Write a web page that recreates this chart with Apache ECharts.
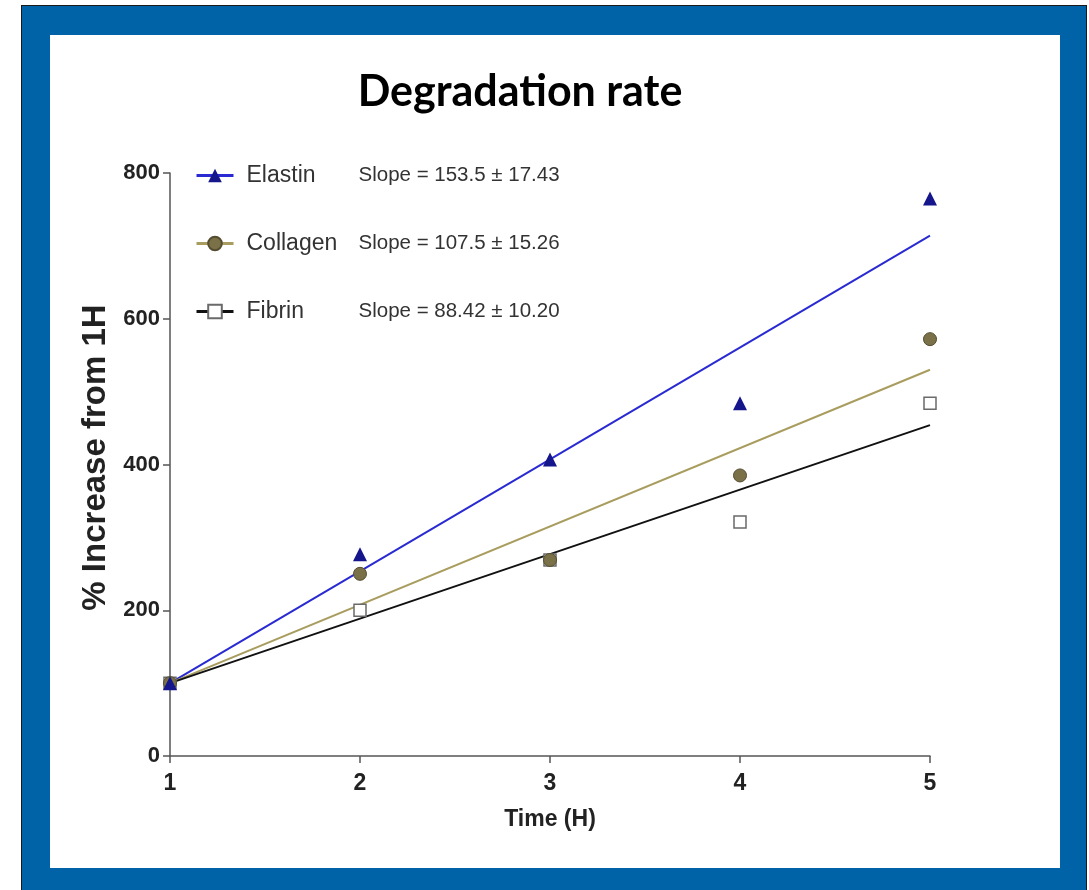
<!DOCTYPE html>
<html>
<head>
<meta charset="utf-8">
<script src="https://cdn.jsdelivr.net/npm/echarts@6/dist/echarts.min.js"></script>
<style>
html,body{margin:0;padding:0;background:#fff;width:1089px;height:890px;overflow:hidden;}
#frame{position:absolute;left:21px;top:5px;width:1064px;height:890px;background:#0063a8;border:1px solid #1a1a1a;}
#chart{position:absolute;left:50px;top:35px;width:1010px;height:833px;background:#fff;}
</style>
</head>
<body>
<div id="frame"></div>
<div id="chart"></div>
<script>
// ---- data ----
const timeH = [1, 2, 3, 4, 5];
const elastin = [100, 277, 407, 484, 765];
const collagen = [100, 250, 269, 385, 572];
const fibrin = [100, 200, 269, 321, 484];
// fitted regression lines (start/end values read at x = 1 and x = 5)
const fitX = [1, 5];
const elastinFit = [100, 714];
const collagenFit = [100, 530];
const fibrinFit = [100, 454];
const seriesNames = ['Elastin', 'Collagen', 'Fibrin'];
const slopeTexts = ['Slope = 153.5 \u00b1 17.43', 'Slope = 107.5 \u00b1 15.26', 'Slope = 88.42 \u00b1 10.20'];
const yTicks = [0, 200, 400, 600, 800];

function pairs(xs, ys) { return xs.map((x, i) => [x, ys[i]]); }

const chart = echarts.init(document.getElementById('chart'), null, {renderer: 'canvas'});
const axisFont = '"Liberation Sans", Arial, sans-serif';
const axisColor = '#555';

const option = {
  backgroundColor: '#fff',
  animation: false,
  title: {
    text: 'Degradation rate',
    left: 465, top: 31,
    textAlign: 'center',
    textStyle: {fontFamily: 'Lato, "Open Sans", sans-serif', fontWeight: 'bold', fontSize: 43, color: '#000'}
  },
  legend: {
    orient: 'vertical',
    left: 145, top: 129,
    padding: 0,
    itemWidth: 37, itemHeight: 17,
    itemGap: 45,
    data: seriesNames,
    selectedMode: false,
    lineStyle: {width: 3},
    formatter: function (name) {
      const i = seriesNames.indexOf(name);
      return '{n|' + name + '}{s|' + slopeTexts[i] + '}';
    },
    textStyle: {
      rich: {
        n: {fontFamily: axisFont, fontSize: 23, color: '#333', width: 112, padding: [0, 0, 0, 8], lineHeight: 28},
        s: {fontFamily: axisFont, fontSize: 20.5, color: '#333', lineHeight: 28}
      }
    }
  },
  grid: {left: 120, top: 138, width: 760, height: 583, containLabel: false},
  xAxis: {
    type: 'value', min: 1, max: 5, interval: 1,
    name: 'Time (H)', nameLocation: 'middle', nameGap: 52,
    nameTextStyle: {fontFamily: axisFont, fontWeight: 'bold', fontSize: 23, color: '#222'},
    axisLine: {show: true, onZero: false, lineStyle: {color: axisColor, width: 1.5}},
    axisTick: {show: true, length: 7, lineStyle: {color: axisColor, width: 1.5}},
    axisLabel: {fontFamily: axisFont, fontWeight: 'bold', fontSize: 23, color: '#222', margin: 16},
    splitLine: {show: false}
  },
  yAxis: {
    type: 'value', min: 0, max: 800, interval: 200,
    name: '% Increase from 1H', nameLocation: 'middle', nameGap: 58,
    nameTextStyle: {fontFamily: axisFont, fontWeight: 'bold', fontSize: 33, color: '#222', padding: [0, 0, 0, 14]},
    axisLine: {show: true, onZero: false, lineStyle: {color: axisColor, width: 1.5}},
    axisTick: {show: true, length: 7, lineStyle: {color: axisColor, width: 1.5}},
    axisLabel: {fontFamily: axisFont, fontWeight: 'bold', fontSize: 22, color: '#222', margin: 10,
      formatter: v => yTicks.includes(v) ? String(v) : ''},
    splitLine: {show: false}
  },
  series: [
    {name: 'Fibrin pts', type: 'scatter', data: pairs(timeH, fibrin), symbol: 'rect', symbolSize: 12,
      itemStyle: {color: '#fff', borderColor: '#6a6a6a', borderWidth: 1.5, opacity: 1}, z: 3},
    {name: 'Collagen pts', type: 'scatter', data: pairs(timeH, collagen), symbol: 'circle', symbolSize: 13,
      itemStyle: {color: '#7b7148', borderColor: '#554d30', borderWidth: 1, opacity: 1}, z: 3},
    {name: 'Elastin pts', type: 'scatter', data: pairs(timeH, elastin), symbol: 'triangle', symbolSize: 14,
      itemStyle: {color: '#15158c', opacity: 1}, z: 3},
    {name: 'Elastin', type: 'line', data: pairs(fitX, elastinFit), showSymbol: false, symbol: 'triangle',
      lineStyle: {color: '#2a2ad2', width: 2}, itemStyle: {color: '#15158c'}, z: 2},
    {name: 'Collagen', type: 'line', data: pairs(fitX, collagenFit), showSymbol: false, symbol: 'circle',
      lineStyle: {color: '#a89c5e', width: 2}, itemStyle: {color: '#7b7148', borderColor: '#554d30', borderWidth: 1}, z: 2},
    {name: 'Fibrin', type: 'line', data: pairs(fitX, fibrinFit), showSymbol: false, symbol: 'rect',
      lineStyle: {color: '#111', width: 2}, itemStyle: {color: '#fff', borderColor: '#6a6a6a', borderWidth: 1.5}, z: 2}
  ]
};
chart.setOption(option);
</script>
</body>
</html>
